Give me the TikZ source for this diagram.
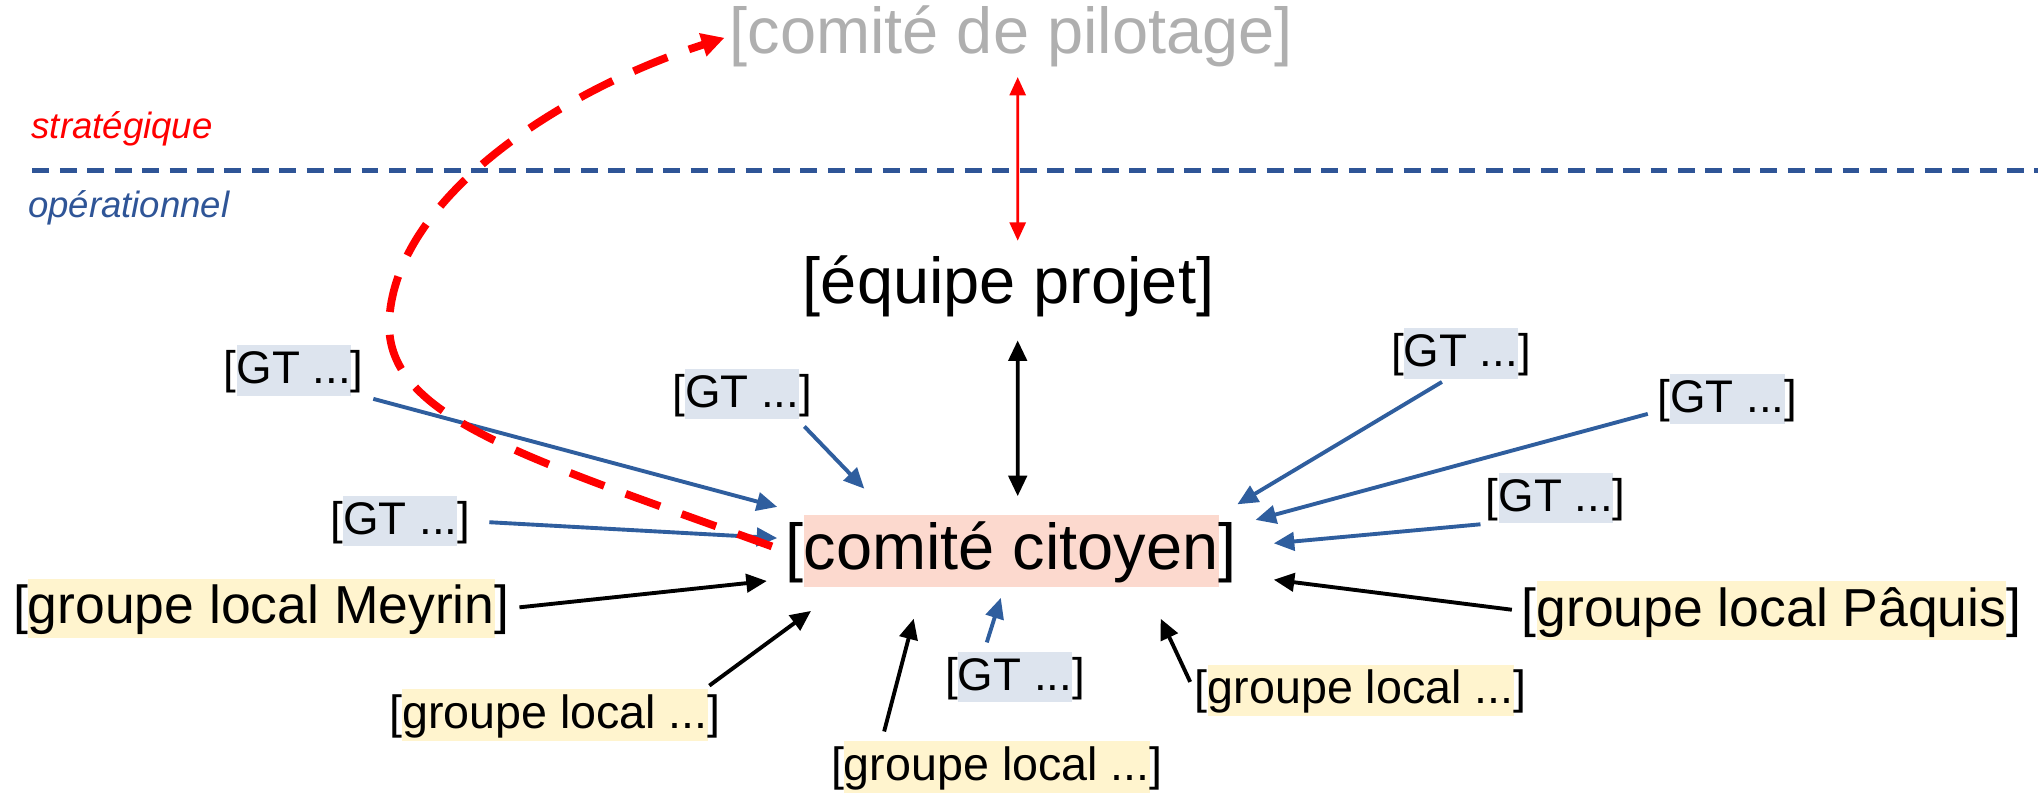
\documentclass[tikz,border=0pt]{standalone}
\usepackage{fontspec}
\setmainfont{Liberation Sans}
\usetikzlibrary{arrows.meta}
\definecolor{linkblue}{RGB}{47,94,158}
\definecolor{levelblue}{RGB}{47,85,151}
\definecolor{pilotgrey}{RGB}{175,175,175}
\definecolor{citoyenpink}{RGB}{252,217,206}
\definecolor{gtback}{RGB}{221,228,238}
\definecolor{groupback}{RGB}{255,244,206}
\newcommand{\marq}[2]{{\setlength{\fboxsep}{0pt}\colorbox{#1}{\rule[-0.26em]{0pt}{1.1em}#2}}}
\begin{document}
\begin{tikzpicture}[x=0.01cm,y=-0.01cm,
    every node/.style={inner sep=0pt},
    big/.style={font=\fontsize{14.2}{17}\selectfont},
    grp/.style={font=\fontsize{11.7}{14}\selectfont},
    small/.style={font=\fontsize{10.2}{12}\selectfont},
    gt/.style={font=\fontsize{10}{12}\selectfont},
    level/.style={font=\fontsize{8}{10}\selectfont\itshape},
    bluearrow/.style={draw=linkblue,line width=0.85pt,-{Triangle[length=4.5pt,width=4pt]},fill=linkblue},
    blackarrow/.style={draw=black,line width=0.85pt,-{Triangle[length=4.5pt,width=4pt]}},
    ]
\useasboundingbox (0,0) rectangle (1568,611);
\node[big,text=pilotgrey] (pilotage) at (778,28) {[comité de pilotage]};
\node[level,text=red] (strat) at (94,99) {stratégique};
\node[level,text=levelblue] (oper) at (99,160) {opérationnel};
\coordinate (lstart) at (25,131);
\coordinate (lend) at (1568,131);
\draw[levelblue,line width=1.2pt,dash pattern=on 3.7pt off 2.3pt] (lstart) -- (lend);
\node[big] (equipe) at (776,220) {[équipe projet]};
\node[big] (citoyen) at (778,424) {[\marq{citoyenpink}{comité citoyen}]};
\node[gt] (gt1) at (226,285) {[\marq{gtback}{GT ...}]};
\node[gt] (gt2) at (571,303) {[\marq{gtback}{GT ...}]};
\node[gt] (gt3) at (308,401) {[\marq{gtback}{GT ...}]};
\node[gt] (gt4) at (781,521) {[\marq{gtback}{GT ...}]};
\node[gt] (gt5) at (1124,272) {[\marq{gtback}{GT ...}]};
\node[gt] (gt6) at (1329,307) {[\marq{gtback}{GT ...}]};
\node[gt] (gt7) at (1197,383) {[\marq{gtback}{GT ...}]};
\node[grp] (meyrin) at (201,468) {[\marq{groupback}{groupe local Meyrin}]};
\node[grp] (paquis) at (1363,470) {[\marq{groupback}{groupe local Pâquis}]};
\node[small] (gl1) at (427,550) {[\marq{groupback}{groupe local ...}]};
\node[small] (gl2) at (767,590) {[\marq{groupback}{groupe local ...}]};
\node[small] (gl3) at (1047,531) {[\marq{groupback}{groupe local ...}]};
\coordinate (e-gt1) at (598,390);
\coordinate (e-gt2) at (665,376);
\coordinate (e-gt3) at (598,414);
\coordinate (e-gt4) at (770,460);
\coordinate (e-gt5) at (952,388);
\coordinate (e-gt6) at (966,400);
\coordinate (e-gt7) at (980,418);
\coordinate (e-meyrin) at (590,447);
\coordinate (e-gl1) at (624,470);
\coordinate (e-gl2) at (703,476);
\coordinate (e-gl3) at (893,476);
\coordinate (e-paquis) at (980,446);
\draw[bluearrow,shorten <=2pt] (gt1.south east) -- (e-gt1);
\draw[bluearrow,shorten <=2pt] (gt2.-25) -- (e-gt2);
\draw[bluearrow,shorten <=4pt] (gt3.east) -- (e-gt3);
\draw[bluearrow,shorten <=2pt] (gt4.140) -- (e-gt4);
\draw[bluearrow,shorten <=1pt] (gt5.240) -- (e-gt5);
\draw[bluearrow,shorten <=2pt] (gt6.190) -- (e-gt6);
\draw[bluearrow,shorten <=1pt] (gt7.south west) -- (e-gt7);
\draw[blackarrow,shorten <=2pt] (meyrin.east) -- (e-meyrin);
\draw[blackarrow,shorten <=1pt] (gl1.10) -- (e-gl1);
\draw[blackarrow,shorten <=2pt] (gl2.167) -- (e-gl2);
\draw[blackarrow,shorten <=2pt] (gl3.west) -- (e-gl3);
\draw[blackarrow,shorten <=2pt] (paquis.west) -- (e-paquis);
\draw[line width=0.85pt,{Triangle[length=4.5pt,width=4pt]}-{Triangle[length=4.5pt,width=4pt]},shorten <=5pt,shorten >=4pt]
  ([xshift=0.07cm]equipe.south) -- ([xshift=0.05cm]citoyen.north);
\draw[red,line width=0.6pt,{Triangle[length=4pt,width=3.5pt]}-{Triangle[length=4pt,width=3.5pt]},shorten <=2pt,shorten >=3pt]
  ([xshift=0.05cm]pilotage.south) -- ([xshift=0.07cm]equipe.north);
\draw[red,line width=1.7pt,dash pattern=on 8pt off 5pt,-{Triangle[length=5pt,width=5pt]},shorten <=3pt,shorten >=1pt]
  (citoyen.west) .. controls (400,350) and (290,320) .. (300,240)
  .. controls (310,150) and (430,70) .. (pilotage.west);
\end{tikzpicture}
\end{document}
